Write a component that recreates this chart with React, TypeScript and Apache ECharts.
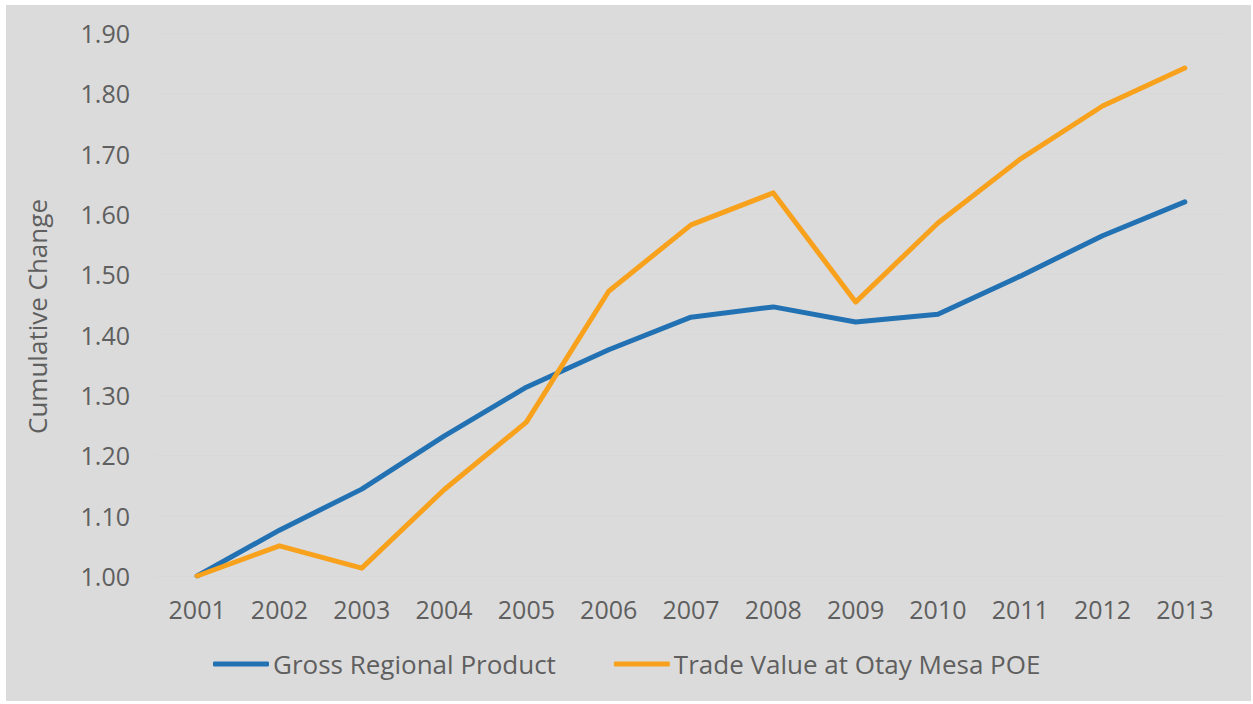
import React, { useEffect, useRef } from "react";
import * as echarts from "echarts";

const years = ["2001", "2002", "2003", "2004", "2005", "2006", "2007", "2008", "2009", "2010", "2011", "2012", "2013"];
const grossRegionalProduct = [1.0, 1.076, 1.144, 1.232, 1.313, 1.375, 1.429, 1.446, 1.421, 1.434, 1.497, 1.564, 1.62];
const tradeValueOtayMesa = [1.0, 1.05, 1.013, 1.143, 1.255, 1.472, 1.582, 1.635, 1.454, 1.585, 1.691, 1.779, 1.842];
const seriesNames = ["Gross Regional Product", "Trade Value at Otay Mesa POE"];
const yAxisName = "Cumulative Change";

const FONT = "'Open Sans', 'Noto Sans', sans-serif";
const TEXT = "#5f5f5f";

export default function App() {
  const ref = useRef<HTMLDivElement>(null);
  useEffect(() => {
    if (!ref.current) return;
    const chart = echarts.init(ref.current, undefined, { renderer: "svg" });
    chart.setOption({
      animation: false,
      backgroundColor: "#dbdbdb",
      textStyle: { fontFamily: FONT },
      grid: { left: 150, right: 25, top: 28, bottom: 125, containLabel: false },
      legend: {
        bottom: 19,
        left: 202,
        itemWidth: 56,
        itemHeight: 5,
        itemGap: 58,
        icon: "roundRect",
        textStyle: { fontSize: 26, color: TEXT, fontFamily: FONT, padding: [0, 0, 0, -1] },
        data: seriesNames,
      },
      xAxis: {
        type: "category",
        data: years,
        boundaryGap: true,
        axisLine: { show: false },
        axisTick: { show: false },
        axisLabel: { fontSize: 25, color: TEXT, margin: 20, fontFamily: FONT },
      },
      yAxis: {
        type: "value",
        min: 1.0,
        max: 1.9,
        interval: 0.1,
        name: yAxisName,
        nameLocation: "middle",
        nameGap: 106,
        nameTextStyle: { fontSize: 26, color: TEXT, fontFamily: FONT, padding: [0, 24, 0, 0] },
        axisLine: { show: false },
        axisTick: { show: false },
        axisLabel: {
          fontSize: 25,
          color: TEXT,
          margin: 26,
          fontFamily: FONT,
          formatter: (v: number) => v.toFixed(2),
        },
        splitLine: { show: true, lineStyle: { color: "#d8d8d8", width: 1 } },
      },
      series: [
        {
          name: seriesNames[0],
          type: "line",
          data: grossRegionalProduct,
          symbol: "none",
          lineStyle: { color: "#2271b3", width: 5, cap: "round", join: "round" },
          itemStyle: { color: "#2271b3" },
          z: 2,
        },
        {
          name: seriesNames[1],
          type: "line",
          data: tradeValueOtayMesa,
          symbol: "none",
          lineStyle: { color: "#f8a11c", width: 5, cap: "round", join: "round" },
          itemStyle: { color: "#f8a11c" },
          z: 3,
        },
      ],
    });
    return () => chart.dispose();
  }, []);
  return (
    <div style={{ position: "absolute", left: 0, top: 0, width: 1253, height: 704, background: "#ffffff" }}>
      <div ref={ref} style={{ position: "absolute", left: 6, top: 5, width: 1245, height: 696 }} />
    </div>
  );
}
